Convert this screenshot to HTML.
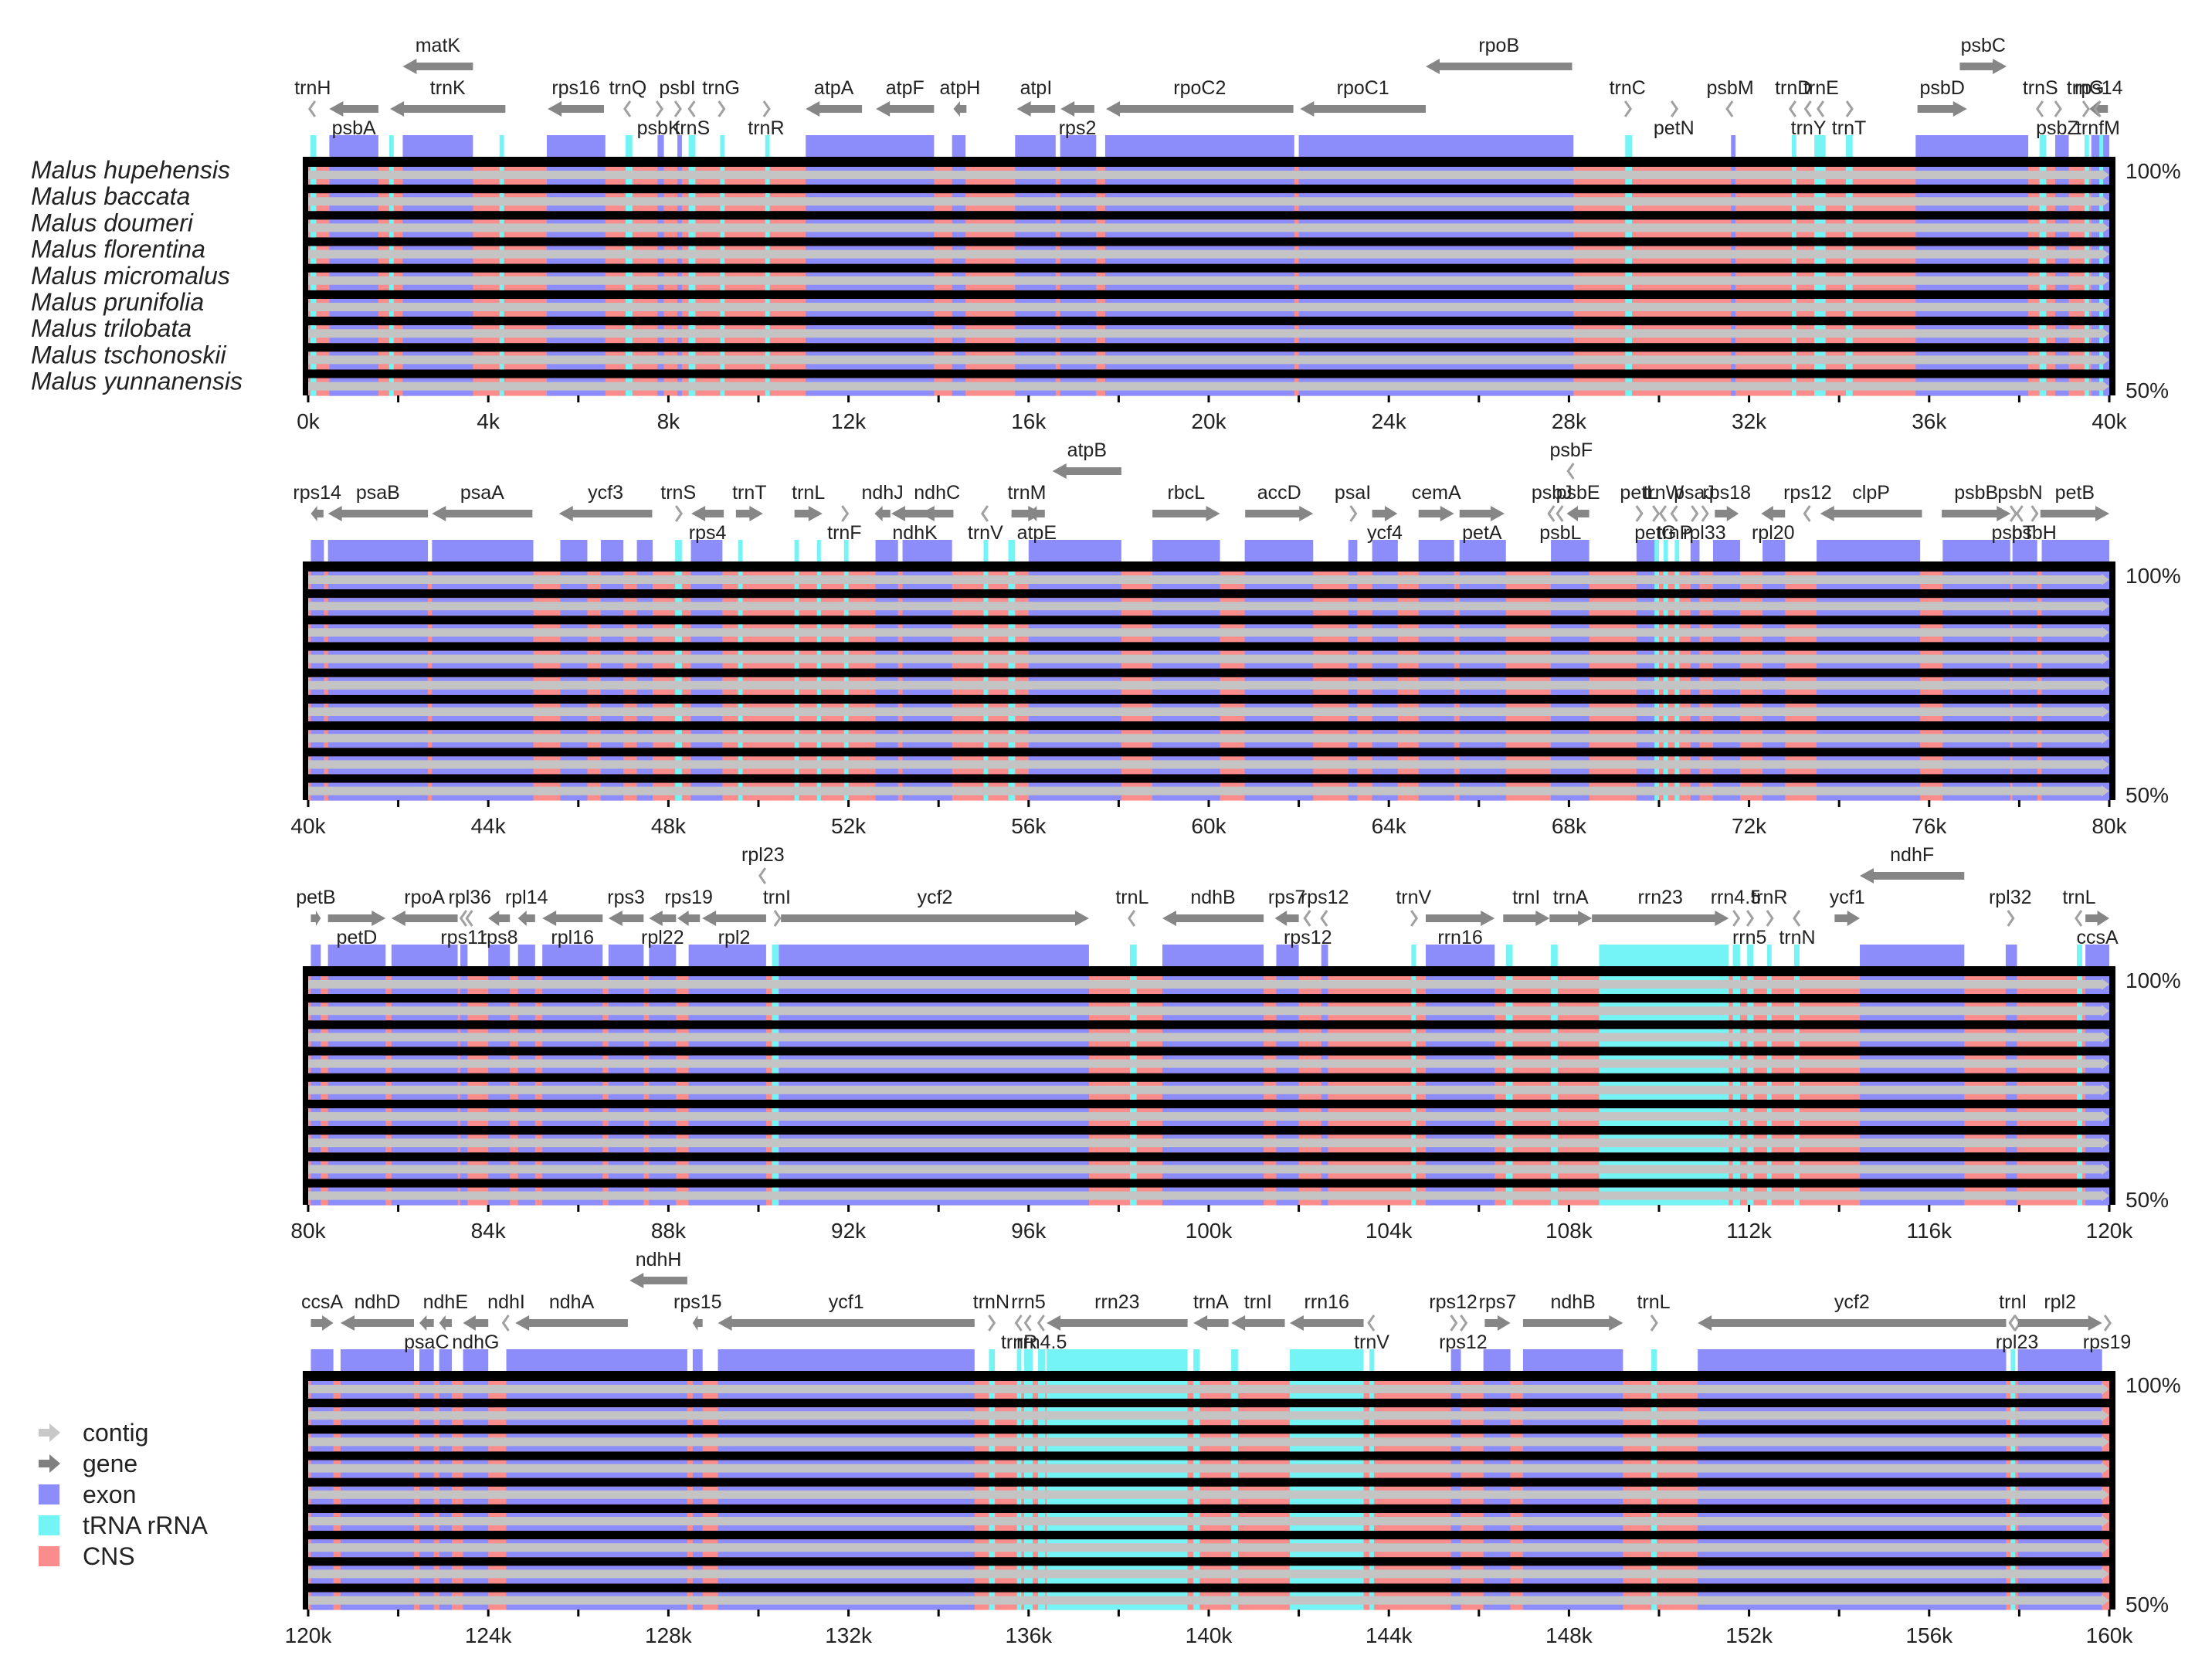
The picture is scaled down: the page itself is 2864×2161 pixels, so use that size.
<!DOCTYPE html>
<html><head><meta charset="utf-8"><style>
html,body{margin:0;padding:0;background:#fff;}
svg{display:block;}
text{font-family:"Liberation Sans",sans-serif;fill:#222;}
</style></head><body>
<svg id="chart" width="2864" height="2161" viewBox="0 0 2864 2161" xmlns="http://www.w3.org/2000/svg">
<g id="legend">
  <g><polygon points="50,1850 64,1850 64,1843 78,1855 64,1867 64,1860 50,1860" fill="#c8c8c8"/><text x="107" y="1866" font-size="32">contig</text></g>
  <g><polygon points="50,1890 64,1890 64,1883 78,1895 64,1907 64,1900 50,1900" fill="#808080"/><text x="107" y="1906" font-size="32">gene</text></g>
  <g><rect x="50" y="1922" width="27" height="26" fill="#8c8cfa"/><text x="107" y="1946" font-size="32">exon</text></g>
  <g><rect x="50" y="1962" width="27" height="26" fill="#74f4f4"/><text x="107" y="1986" font-size="32">tRNA rRNA</text></g>
  <g><rect x="50" y="2002" width="27" height="26" fill="#fa8c8c"/><text x="107" y="2026" font-size="32">CNS</text></g>
</g>
</svg>
<script>
// ---- data ----
const species = ["Malus hupehensis","Malus baccata","Malus doumeri","Malus florentina","Malus micromalus","Malus prunifolia","Malus trilobata","Malus tschonoskii","Malus yunnanensis"];
const panelStarts = [0,40,80,120];
const panelSpan = 40;
const tickStep = 2;
const tickLabelStep = 4;
const pctLabels = ["100%","50%"];
// exons [start kb, end kb]
const exons1 = [[0.47,1.56],[2.1,3.66],[5.3,6.6],[7.76,7.9],[8.2,8.3],[11.05,13.9],[14.3,14.6],[15.7,16.6],[16.7,17.5],[17.7,21.9],[22.0,28.1],[31.6,31.7],[35.7,38.2],[38.8,39.1],[39.6,40]];
const exons2 = [[40.06,40.35],[40.44,42.66],[42.75,45.0],[45.6,46.2],[46.5,47.0],[47.3,47.65],[48.5,49.2],[52.6,53.1],[53.2,54.3],[56.0,58.06],[58.75,60.25],[60.8,62.32],[63.1,63.3],[63.63,64.2],[64.66,65.45],[65.57,66.6],[67.6,68.45],[69.5,69.95],[70.7,70.9],[71.2,71.8],[72.3,72.8],[73.5,75.8],[76.3,77.8],[77.85,78.4],[78.5,80.0]];
const exons3 = [[80.06,80.28],[80.44,81.72],[81.85,83.32],[83.38,83.54],[84.0,84.48],[84.66,85.04],[85.2,86.54],[86.67,87.45],[87.57,88.17],[88.45,90.17],[90.45,97.34],[98.97,101.22],[101.5,102.0],[102.5,102.65],[104.82,106.35],[114.46,116.78],[117.7,117.95],[119.47,120]];
const exons4 = [[120.06,120.56],[120.72,122.35],[122.47,122.79],[122.91,123.19],[123.44,124.0],[124.4,128.42],[128.54,128.76],[129.1,134.8],[145.38,145.6],[146.1,146.7],[146.98,149.2],[150.86,157.71],[157.97,159.84]];
// tRNA / rRNA
const rnas1 = [[0.05,0.18],[1.8,1.9],[4.25,4.35],[7.05,7.2],[8.45,8.6],[9.15,9.25],[10.15,10.25],[29.25,29.4],[32.95,33.05],[33.45,33.7],[34.15,34.3],[38.45,38.6],[39.45,39.55],[39.78,39.85]];
const rnas2 = [[48.15,48.3],[49.55,49.65],[50.8,50.9],[51.3,51.35],[51.9,52.0],[55.0,55.1],[55.55,55.7],[69.9,70.0],[70.1,70.2],[70.35,70.45]];
const rnas3 = [[90.3,90.45],[98.25,98.4],[104.5,104.6],[106.6,106.75],[107.6,107.75],[108.67,111.55],[111.64,111.8],[111.96,112.1],[112.4,112.5],[113.0,113.12],[119.28,119.4]];
const rnas4 = [[135.12,135.25],[135.74,135.84],[135.9,136.09],[136.21,136.37],[136.4,139.53],[139.66,139.8],[140.5,140.65],[141.8,143.44],[143.57,143.67],[149.83,149.95],[157.81,157.91]];
// genes: [name, start, end, strand, level(0 top / 1 main), label position a=above b=below]
const genes1 = [["matK",2.1,3.66,-1,0,"a"],["rpoB",24.82,28.07,-1,0,"a"],["psbC",36.68,37.72,1,0,"a"],
["trnH",0.05,0.15,-1,1,"a"],["psbA",0.47,1.56,-1,1,"b"],["trnK",1.82,4.38,-1,1,"a"],["rps16",5.32,6.57,-1,1,"a"],["trnQ",7.05,7.15,-1,1,"a"],["psbK",7.74,7.84,1,1,"b"],["psbI",8.15,8.25,1,1,"a"],["trnS",8.48,8.58,-1,1,"b"],["trnG",9.12,9.22,1,1,"a"],["trnR",10.12,10.22,1,1,"b"],["atpA",11.05,12.3,-1,1,"a"],["atpF",12.61,13.9,-1,1,"a"],["atpH",14.33,14.62,-1,1,"a"],["atpI",15.74,16.59,-1,1,"a"],["rps2",16.71,17.46,-1,1,"b"],["rpoC2",17.72,21.88,-1,1,"a"],["rpoC1",22.03,24.82,-1,1,"a"],["trnC",29.25,29.35,1,1,"a"],["petN",30.28,30.38,1,1,"b"],["psbM",31.53,31.63,-1,1,"a"],["trnD",32.93,33.03,-1,1,"a"],["trnY",33.27,33.37,-1,1,"b"],["trnE",33.55,33.65,-1,1,"a"],["trnT",34.17,34.27,1,1,"b"],["psbD",35.74,36.84,1,1,"a"],["trnS",38.42,38.52,-1,1,"a"],["psbZ",38.8,38.9,1,1,"b"],["trnG",39.42,39.52,1,1,"a"],["rps14",39.56,39.97,-1,1,"a"],["trnfM",39.7,39.8,-1,1,"b"]];
const genes2 = [["atpB",56.53,58.06,-1,0,"a"],["psbF",68.0,68.1,-1,0,"a"],
["rps14",40.06,40.34,-1,1,"a"],["psaB",40.44,42.66,-1,1,"a"],["psaA",42.75,44.98,-1,1,"a"],["ycf3",45.57,47.64,-1,1,"a"],["trnS",48.17,48.27,1,1,"a"],["rps4",48.51,49.23,-1,1,"b"],["trnT",49.5,50.1,1,1,"a"],["trnL",50.8,51.42,1,1,"a"],["trnF",51.86,51.96,1,1,"b"],["ndhJ",52.58,52.93,-1,1,"a"],["ndhK",52.95,54.0,-1,1,"b"],["ndhC",53.6,54.33,-1,1,"a"],["trnV",54.99,55.09,-1,1,"b"],["trnM",55.62,56.3,1,1,"a"],["atpE",56.0,56.36,-1,1,"b"],["rbcL",58.75,60.25,1,1,"a"],["accD",60.81,62.32,1,1,"a"],["psaI",63.1,63.3,1,1,"a"],["ycf4",63.63,64.19,1,1,"b"],["cemA",64.66,65.45,1,1,"a"],["petA",65.57,66.57,1,1,"b"],["psbJ",67.57,67.67,-1,1,"a"],["psbL",67.76,67.86,-1,1,"b"],["psbE",67.95,68.45,-1,1,"a"],["petL",69.5,69.6,1,1,"a"],["petG",69.87,69.97,1,1,"b"],["trnW",70.05,70.15,-1,1,"a"],["trnP",70.3,70.4,-1,1,"b"],["psaJ",70.73,70.83,1,1,"a"],["rpl33",70.92,71.1,1,1,"b"],["rps18",71.24,71.77,1,1,"a"],["rpl20",72.27,72.8,-1,1,"b"],["rps12",73.2,73.4,-1,1,"a"],["clpP",73.58,75.84,-1,1,"a"],["psbB",76.28,77.81,1,1,"a"],["psbT",77.81,77.91,1,1,"b"],["psbN",77.97,78.07,-1,1,"a"],["psbH",78.28,78.38,1,1,"b"],["petB",78.47,80,1,1,"a"]];
const genes3 = [["rpl23",90.05,90.15,-1,0,"a"],["ndhF",114.46,116.78,-1,0,"a"],
["petB",80.06,80.28,1,1,"a"],["petD",80.44,81.72,1,1,"b"],["rpoA",81.85,83.32,-1,1,"a"],["rps11",83.38,83.54,-1,1,"b"],["rpl36",83.54,83.64,-1,1,"a"],["rps8",84.0,84.48,-1,1,"b"],["rpl14",84.66,85.04,-1,1,"a"],["rpl16",85.2,86.54,-1,1,"b"],["rps3",86.67,87.45,-1,1,"a"],["rpl22",87.57,88.17,-1,1,"b"],["rps19",88.2,88.7,-1,1,"a"],["rpl2",88.75,90.17,-1,1,"b"],["trnI",90.36,90.46,1,1,"a"],["ycf2",90.5,97.34,1,1,"a"],["trnL",98.25,98.35,-1,1,"a"],["ndhB",98.97,101.22,-1,1,"a"],["rps7",101.47,102.0,-1,1,"a"],["rps12",102.1,102.3,-1,1,"b"],["rps12",102.5,102.65,-1,1,"a"],["trnV",104.5,104.6,1,1,"a"],["rrn16",104.82,106.35,1,1,"b"],["trnI",106.54,107.57,1,1,"a"],["trnA",107.57,108.51,1,1,"a"],["rrn23",108.51,111.55,1,1,"a"],["rrn4.5",111.64,111.77,1,1,"a"],["rrn5",111.96,112.06,1,1,"b"],["trnR",112.4,112.5,1,1,"a"],["trnN",113.02,113.12,-1,1,"b"],["ycf1",113.9,114.46,1,1,"a"],["rpl32",117.75,117.85,1,1,"a"],["trnL",119.28,119.38,-1,1,"a"],["ccsA",119.47,120,1,1,"b"]];
const genes4 = [["ndhH",127.14,128.42,-1,0,"a"],
["ccsA",120.06,120.56,1,1,"a"],["ndhD",120.72,122.35,-1,1,"a"],["psaC",122.47,122.79,-1,1,"b"],["ndhE",122.91,123.19,-1,1,"a"],["ndhG",123.44,124.0,-1,1,"b"],["ndhI",124.32,124.48,-1,1,"a"],["ndhA",124.6,127.1,-1,1,"a"],["rps15",128.54,128.76,-1,1,"a"],["ycf1",129.1,134.8,-1,1,"a"],["trnN",135.12,135.22,1,1,"a"],["trnR",135.74,135.84,-1,1,"b"],["rrn5",135.9,136.09,-1,1,"a"],["rrn4.5",136.21,136.37,-1,1,"b"],["rrn23",136.4,139.53,-1,1,"a"],["trnA",139.66,140.44,-1,1,"a"],["trnI",140.5,141.69,-1,1,"a"],["rrn16",141.8,143.44,-1,1,"a"],["trnV",143.57,143.67,-1,1,"b"],["rps12",145.38,145.48,1,1,"a"],["rps12",145.6,145.7,1,1,"b"],["rps7",146.13,146.7,1,1,"a"],["ndhB",146.98,149.2,1,1,"a"],["trnL",149.83,149.93,1,1,"a"],["ycf2",150.86,157.71,-1,1,"a"],["trnI",157.81,157.91,-1,1,"a"],["rpl23",157.9,158.0,1,1,"b"],["rpl2",157.97,159.84,1,1,"a"],["rps19",159.9,160,1,1,"b"]];
const panelExons=[exons1,exons2,exons3,exons4];
const panelRnas=[rnas1,rnas2,rnas3,rnas4];
const panelGenes=[genes1,genes2,genes3,genes4];

// ---- layout ----
const NS="http://www.w3.org/2000/svg";
const svg=document.getElementById('chart');
const X0=399, PXK=58.3, PANEL_TOP=[203,727,1251,1775], FH=309, ROWH=34.2;
function mk(tag,attrs,parent){const e=document.createElementNS(NS,tag);for(const k in attrs)e.setAttribute(k,attrs[k]);(parent||svg).appendChild(e);return e;}
function xs(p,kb){return X0+(kb-panelStarts[p])*PXK;}

species.forEach((s,i)=>{
  const t=mk('text',{x:40,y:231+i*ROWH,'font-size':32,'font-style':'italic',fill:'#333'});
  
  
  t.textContent=s;
});

for(let p=0;p<4;p++){
  const T=PANEL_TOP[p];
  const g=mk('g',{});
  
  
  const xa=xs(p,panelStarts[p]), xb=xs(p,panelStarts[p]+panelSpan);
  panelExons[p].forEach(e=>{const r=mk('rect',{x:xs(p,e[0]),y:T-28,width:Math.max(3,(e[1]-e[0])*PXK),height:28,fill:'#8c8cfa'},g);
    });
  panelRnas[p].forEach(e=>{const r=mk('rect',{x:xs(p,e[0]),y:T-28,width:Math.max(5,(e[1]-e[0])*PXK),height:28,fill:'#74f4f4'},g);
    });
  const fr=mk('rect',{x:xa-7,y:T,width:xb-xa+15,height:FH,fill:'#000'},g);
  
  for(let r=0;r<9;r++){
    const y0=T+3+r*ROWH;
    const rg=mk('g',{},g);
    
    
    mk('rect',{x:xa,y:y0+10,width:xb-xa,height:23,fill:'#fa8c8c'},rg);
    panelExons[p].forEach(e=>mk('rect',{x:xs(p,e[0]),y:y0+10,width:Math.max(3,(e[1]-e[0])*PXK),height:23,fill:'#8c8cfa'},rg));
    panelRnas[p].forEach(e=>mk('rect',{x:xs(p,e[0]),y:y0+10,width:Math.max(5,(e[1]-e[0])*PXK),height:23,fill:'#74f4f4'},rg));
    mk('polygon',{points:`${xa},${y0+15} ${xb-10},${y0+15} ${xb-10},${y0+13} ${xb},${y0+20.5} ${xb-10},${y0+28} ${xb-10},${y0+26} ${xa},${y0+26}`,fill:'#c4c4c4'},rg);
  }
  const p1=mk('text',{x:2752,y:T+28,'font-size':28},g);p1.textContent=pctLabels[0];
  
  const p2=mk('text',{x:2752,y:T+312,'font-size':28},g);p2.textContent=pctLabels[1];
  
  for(let k=panelStarts[p];k<=panelStarts[p]+panelSpan;k+=tickStep){
    const x=xs(p,k);
    const tk=mk('line',{x1:x,y1:T+FH,x2:x,y2:T+FH+9,stroke:'#000','stroke-width':3},g);
    
    if((k-panelStarts[p])%tickLabelStep===0){
      const t=mk('text',{x:x,y:T+FH+43,'font-size':28,'text-anchor':'middle'},g);
      t.textContent=k+'k';
      
    }
  }
  panelGenes[p].forEach(gn=>{
    const [name,s,e,str,lvl,lp]=gn;
    const ay=lvl===0?T-117:T-62;
    const x1=xs(p,s), x2=xs(p,e);
    const w=x2-x1;
    const gg=mk('g',{},g);
    
    
    if(w<12){
      const cx=(x1+x2)/2;
      const d=str>0?`M${cx-3},${ay-10} L${cx+4},${ay} L${cx-3},${ay+10}`:`M${cx+3},${ay-10} L${cx-4},${ay} L${cx+3},${ay+10}`;
      mk('path',{d:d,fill:'none',stroke:'#a0a0a0','stroke-width':3},gg);
    }else{
      const hl=Math.min(18,w*0.5);
      let pts;
      if(str>0) pts=`${x1},${ay-5} ${x2-hl},${ay-5} ${x2-hl},${ay-10} ${x2},${ay} ${x2-hl},${ay+10} ${x2-hl},${ay+5} ${x1},${ay+5}`;
      else pts=`${x2},${ay-5} ${x1+hl},${ay-5} ${x1+hl},${ay-10} ${x1},${ay} ${x1+hl},${ay+10} ${x1+hl},${ay+5} ${x2},${ay+5}`;
      mk('polygon',{points:pts,fill:'#868686'},gg);
    }
    const ly=lp==='a'?ay-19:ay+33;
    const t=mk('text',{x:(x1+x2)/2,y:ly,'font-size':25,'text-anchor':'middle',fill:'#333'},gg);
    t.textContent=name;
  });
}
</script>
</body></html>
